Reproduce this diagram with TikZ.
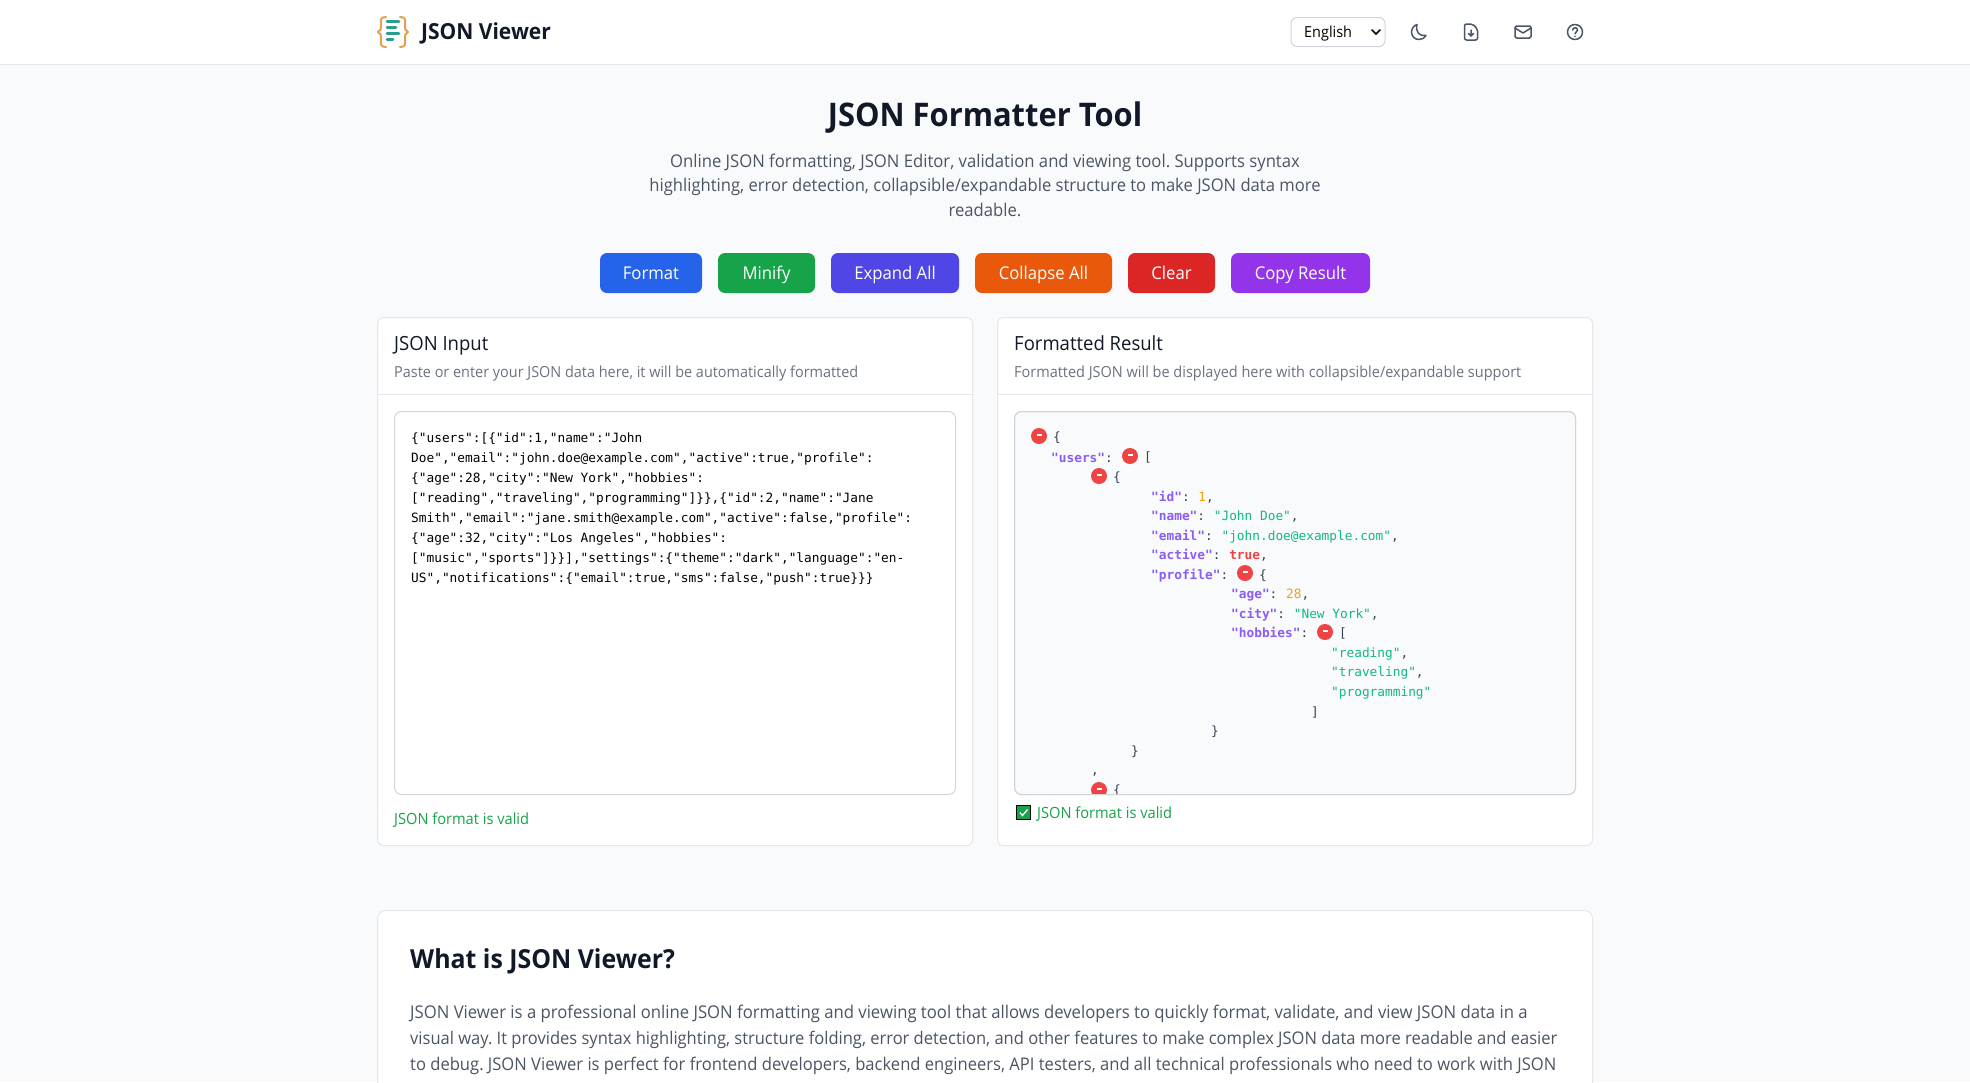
\documentclass[tikz,border=0pt]{standalone}
\usepackage{fontspec}
\setmainfont[FakeStretch=0.95]{Open Sans}
\newfontfamily\monof{DejaVu Sans Mono}
\usetikzlibrary{calc}
\frenchspacing
\definecolor{pagebg}{HTML}{F9FAFB}
\definecolor{hair}{HTML}{E5E7EB}
\definecolor{arealine}{HTML}{D1D5DB}
\definecolor{inkdark}{HTML}{111827}
\definecolor{inkgrey}{HTML}{4B5563}
\definecolor{inkmid}{HTML}{6B7280}
\definecolor{keyc}{HTML}{8B5CF6}
\definecolor{strc}{HTML}{10B981}
\definecolor{numc}{HTML}{F59E0B}
\definecolor{boolc}{HTML}{EF4444}
\definecolor{punc}{HTML}{374151}
\definecolor{okc}{HTML}{16A34A}
\tikzset{
 card/.style={fill=white,draw=hair,line width=1pt,rounded corners=6pt},
 txt/.style={inner sep=0pt,anchor=base west,text=#1},
 txt/.default=inkdark,
 ctr/.style={inner sep=0pt,anchor=base,text=#1},
 btn/.style={fill=#1,rounded corners=7pt,draw=none},
 btnlabel/.style={inner sep=0pt,anchor=base,text=white,font=\fontsize{17.6}{17.6}\selectfont},
 icon/.style={draw=inkgrey,line width=1.5pt,line cap=round,line join=round},
 tog/.style={circle,fill=boolc,draw=none,minimum size=16pt,inner sep=0pt},
 mono/.style={inner sep=0pt,anchor=base west,font=\fontsize{12.8}{12.8}\monof},
}
\newcommand{\K}[1]{\textcolor{keyc}{\bfseries #1}}
\newcommand{\Sv}[1]{\textcolor{strc}{#1}}
\newcommand{\Nv}[1]{\textcolor{numc}{#1}}
\newcommand{\Bv}[1]{\textcolor{boolc}{\bfseries #1}}
\newcommand{\Pv}[1]{\textcolor{punc}{#1}}
\newcommand{\Cn}{\Pv{:}\hspace{8.7pt}}
\begin{document}
\begin{tikzpicture}[x=1pt,y=-1pt]
\useasboundingbox (0,0) rectangle (1970,1082);
\fill[pagebg] (0,0) rectangle (1970,1082);
% header
\fill[white] (0,0) rectangle (1970,64);
\draw[hair,line width=1pt] (0,64.5) -- (1970,64.5);
% logo
\begin{scope}[line cap=round,line join=round]
\draw[color={rgb,255:red,228;green,160;blue,80},line width=2pt]
  (386,17) .. controls (380,17) and (381,20) .. (381,24) .. controls (381,29) and (381,31) .. (378,32) .. controls (381,33) and (381,35) .. (381,40) .. controls (381,44) and (380,47) .. (386,47);
\draw[color={rgb,255:red,228;green,160;blue,80},line width=2pt]
  (400,17) .. controls (406,17) and (405,20) .. (405,24) .. controls (405,29) and (405,31) .. (408,32) .. controls (405,33) and (405,35) .. (405,40) .. controls (405,44) and (406,47) .. (400,47);
\foreach \yy/\xe in {21.5/399,27.5/396,33.5/399,39.5/393}
 \draw[color={rgb,255:red,42;green,157;blue,143},line width=2.6pt] (387,\yy) -- (\xe,\yy);
\end{scope}
\node[txt,font=\fontsize{22.1}{22}\selectfont\bfseries] (brand) at (421,39.3) {JSON Viewer};
% language select
\node[draw=arealine,fill=white,rounded corners=6pt,line width=1pt,minimum width=94pt,minimum height=29pt,inner sep=0pt] (lang) at (1338,32) {};
\node[txt=black,font=\fontsize{15.2}{15}\selectfont] (langt) at (1304,37) {English};
\draw[black,line width=1.5pt,line cap=round] (1372,30) -- (1376,34) -- (1380,30);
% icons
\coordinate (moon) at (1418,32);
\draw[icon] ($(moon)+(-1,-7.5)$) .. controls ($(moon)+(-9,-5)$) and ($(moon)+(-8,7.5)$) .. ($(moon)+(1,7.5)$) .. controls ($(moon)+(4,7.5)$) and ($(moon)+(7,6)$) .. ($(moon)+(8,3.5)$) .. controls ($(moon)+(2,5)$) and ($(moon)+(-3,0)$) .. ($(moon)+(-1,-7.5)$);
\coordinate (file) at (1471,32);
\draw[icon,rounded corners=2pt] ($(file)+(-6.5,-8)$) -- ($(file)+(1.5,-8)$) -- ($(file)+(6.5,-3)$) -- ($(file)+(6.5,8)$) -- ($(file)+(-6.5,8)$) -- cycle;
\draw[icon] ($(file)+(0,-2)$) -- ($(file)+(0,4)$) ($(file)+(-2.5,1.5)$) -- ($(file)+(0,4)$) -- ($(file)+(2.5,1.5)$);
\coordinate (mail) at (1523,32);
\draw[icon,rounded corners=1.5pt] ($(mail)+(-8,-6)$) rectangle ($(mail)+(8,6)$);
\draw[icon] ($(mail)+(-8,-4)$) -- ($(mail)+(0,1)$) -- ($(mail)+(8,-4)$);
\coordinate (help) at (1575,32);
\draw[icon] (help) circle (7.5pt);
\draw[icon] ($(help)+(-2.4,-2)$) .. controls ($(help)+(-2,-5)$) and ($(help)+(2.6,-5)$) .. ($(help)+(2.5,-2)$) .. controls ($(help)+(2.4,0)$) and ($(help)+(0,0)$) .. ($(help)+(0,1.8)$);
\fill[inkgrey] ($(help)+(0,4.2)$) circle (.9pt);
% title
\node[ctr=inkdark,font=\fontsize{32.5}{32}\selectfont\bfseries] (title) at (985,126) {JSON Formatter Tool};
\foreach \yy/\ss/\tt in {167/17.55/{Online JSON formatting, JSON Editor, validation and viewing tool. Supports syntax},191.5/17.47/{highlighting, error detection, collapsible/expandable structure to make JSON data more},216/17.5/{readable.}}
 \node[ctr=inkgrey,font=\fontsize{\ss}{17}\selectfont] at (985,\yy) {\tt};
% buttons
\foreach \xa/\xb/\cc/\lab/\nm in {600/702/2563EB/Format/bf,718/815/16A34A/Minify/bm,831/959/4F46E5/Expand All/be,975/1112/EA580C/Collapse All/bc,1128/1215/DC2626/Clear/bx,1231/1370/9333EA/Copy Result/by}{
 \definecolor{tmpc}{HTML}{\cc}
 \fill[btn=tmpc] (\xa,253) rectangle (\xb,293);
 \node[btnlabel] (\nm) at ({(\xa+\xb)/2},279) {\lab};
}
% cards
\draw[card] (377.5,317.5) rectangle (972.5,845.5);
\draw[card] (997.5,317.5) rectangle (1592.5,845.5);
\draw[hair] (378,394.5) -- (972,394.5);
\draw[hair] (998,394.5) -- (1592,394.5);
\node[txt,font=\fontsize{19.5}{19}\selectfont] (inh) at (394,350) {JSON Input};
\node[txt=inkmid,font=\fontsize{15.2}{15}\selectfont] (ins) at (394,377) {Paste or enter your JSON data here, it will be automatically formatted};
\node[txt,font=\fontsize{19.5}{19}\selectfont] (outh) at (1014,350) {Formatted Result};
\node[txt=inkmid,font=\fontsize{15.25}{15}\selectfont] (outs) at (1014,377) {Formatted JSON will be displayed here with collapsible/expandable support};
% input area
\draw[fill=white,draw=arealine,line width=1pt,rounded corners=7pt] (394.5,411.5) rectangle (955.5,794.5);
\foreach \n/\tt in {0/{\{"users":[\{"id":1,"name":"John},
 1/{Doe","email":"john.doe@example.com","active":true,"profile":},
 2/{\{"age":28,"city":"New York","hobbies":},
 3/{["reading","traveling","programming"]\}\},\{"id":2,"name":"Jane},
 4/{Smith","email":"jane.smith@example.com","active":false,"profile":},
 5/{\{"age":32,"city":"Los Angeles","hobbies":},
 6/{["music","sports"]\}\}],"settings":\{"theme":"dark","language":"en-},
 7/{US","notifications":\{"email":true,"sms":false,"push":true\}\}\}}}
 \node[mono,text=black] at (411,{442+20*\n}) {\tt};
\node[txt=okc,font=\fontsize{15.4}{15}\selectfont] (inok) at (394,824) {JSON format is valid};
% output area
\draw[fill=pagebg,draw=arealine,line width=1pt,rounded corners=7pt] (1014.5,411.5) rectangle (1575.5,794.5);
\begin{scope}
\clip[rounded corners=7pt] (1015,412) rectangle (1575,794);
\node[tog] (t1) at (1039,436) {}; \node[mono] at (1053,441) {\Pv{\{}};
\node[mono] at (1051,462) {\K{"users"}\Pv{:}}; \node[tog] (t2) at (1130,456) {}; \node[mono] at (1144,461) {\Pv{[}};
\node[tog] (t3) at (1099,476) {}; \node[mono] at (1113,481) {\Pv{\{}};
\node[mono] at (1151,501) {\K{"id"}\Cn\Nv{1}\Pv{,}};
\node[mono] at (1151,520.5) {\K{"name"}\Cn\Sv{"John Doe"}\Pv{,}};
\node[mono] at (1151,540) {\K{"email"}\Cn\Sv{"john.doe@example.com"}\Pv{,}};
\node[mono] at (1151,559.5) {\K{"active"}\Cn\Bv{true}\Pv{,}};
\node[mono] at (1151,579) {\K{"profile"}\Pv{:}}; \node[tog] (t4) at (1245,573) {}; \node[mono] at (1259,579) {\Pv{\{}};
\node[mono] at (1231,598.5) {\K{"age"}\Cn\Nv{28}\Pv{,}};
\node[mono] at (1231,618) {\K{"city"}\Cn\Sv{"New York"}\Pv{,}};
\node[mono] at (1231,637.5) {\K{"hobbies"}\Pv{:}}; \node[tog] (t5) at (1325,632) {}; \node[mono] at (1339,637.5) {\Pv{[}};
\node[mono] at (1331,657) {\Sv{"reading"}\Pv{,}};
\node[mono] at (1331,676.5) {\Sv{"traveling"}\Pv{,}};
\node[mono] at (1331,696) {\Sv{"programming"}};
\node[mono] at (1311,716) {\Pv{]}};
\node[mono] at (1211,735.5) {\Pv{\}}};
\node[mono] at (1131,755) {\Pv{\}}};
\node[mono] at (1091,774.5) {\Pv{,}};
\node[tog] (t6) at (1099,790) {}; \node[mono] at (1113,794) {\Pv{\{}};
\foreach \t in {t1,t2,t3,t4,t5,t6}
 \fill[white] ($(\t.center)+(-2.5,-2)$) rectangle ($(\t.center)+(2.5,-0.2)$);
\end{scope}
\draw[draw=arealine,line width=1pt,rounded corners=7pt] (1014.5,411.5) rectangle (1575.5,794.5);
% valid line
\node[draw=black,fill=okc,minimum size=14pt,inner sep=0pt,line width=1pt] (chk) at (1023.5,812.5) {};
\draw[white,line width=1.3pt] ($(chk)+(-3.5,0)$) -- ($(chk)+(-1,3)$) -- ($(chk)+(4,-3)$);
\node[txt=okc,font=\fontsize{15.4}{15}\selectfont] (outok) at (1037,818) {JSON format is valid};
% about
\begin{scope}
\clip (300,900) rectangle (1670,1082);
\draw[card,rounded corners=8pt] (377.5,910.5) rectangle (1592.5,1120);
\end{scope}
\node[txt,font=\fontsize{26.2}{26}\selectfont\bfseries] (about) at (410,968) {What is JSON Viewer?};
\foreach \yy/\ss/\tt in {1018/17.58/{JSON Viewer is a professional online JSON formatting and viewing tool that allows developers to quickly format, validate, and view JSON data in a},1044/17.38/{visual way. It provides syntax highlighting, structure folding, error detection, and other features to make complex JSON data more readable and easier},1070/17.45/{to debug. JSON Viewer is perfect for frontend developers, backend engineers, API testers, and all technical professionals who need to work with JSON}}
 \node[txt=inkgrey,font=\fontsize{\ss}{17}\selectfont] at (410,\yy) {\tt};
\end{tikzpicture}
\end{document}
